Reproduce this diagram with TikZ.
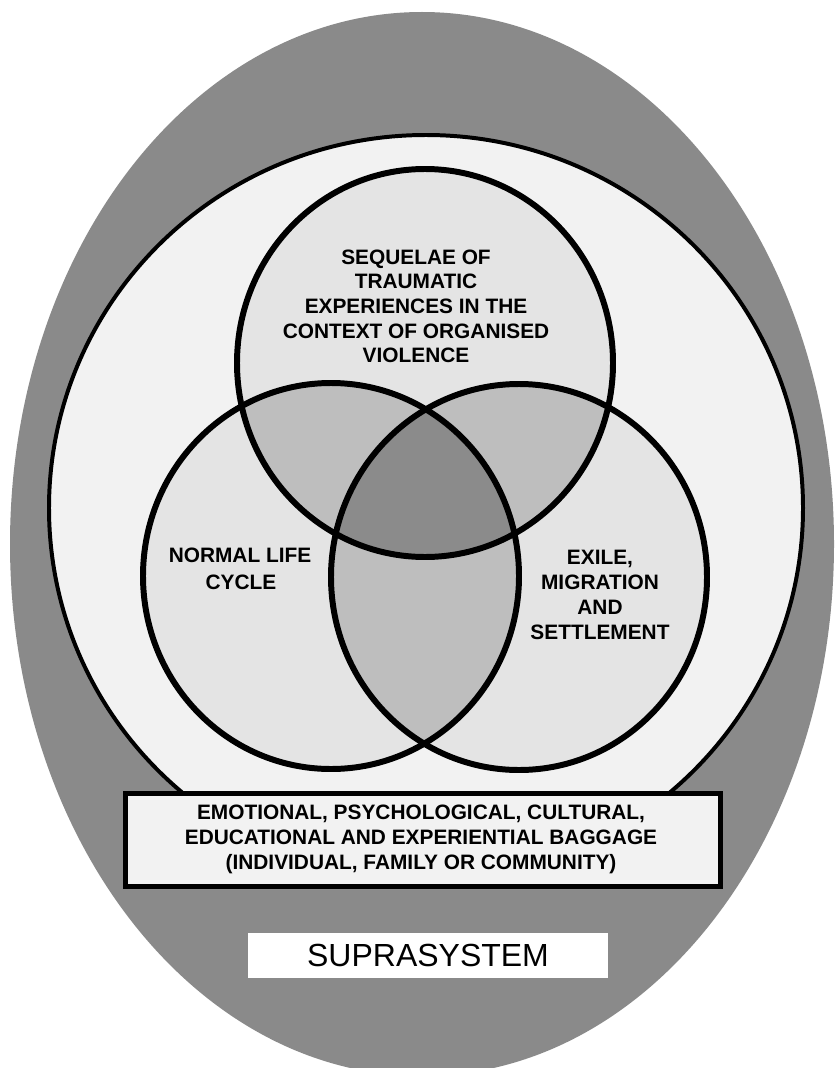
\documentclass[tikz,border=0pt]{standalone}
\usepackage{fontspec}
\setmainfont{Liberation Sans}

\definecolor{suprgray}{RGB}{138,138,138}
\definecolor{ovalfill}{RGB}{242,242,242}
\definecolor{setfill}{RGB}{228,228,228}
\definecolor{pairfill}{RGB}{190,190,190}
\definecolor{corefill}{RGB}{139,139,139}

\def\topset{(425,363) ellipse [x radius=188, y radius=194]}
\def\leftset{(331,576) ellipse [x radius=188, y radius=193]}
\def\rightset{(519,577) ellipse [x radius=188, y radius=193]}

\begin{document}
\begin{tikzpicture}[x=0.03cm,y=-0.03cm,
    lbl/.style={font=\fontsize{17.8}{21}\selectfont\bfseries, inner sep=0pt, text height=12.8pt, text depth=0pt},
    setline/.style={draw=black, line width=5.1pt}]
        \useasboundingbox (0,0) rectangle (835,1068);
        \fill[white] (0,0) rectangle (835,1068);
        \begin{scope}
          \clip (0,0) rectangle (835,1068);
          \fill[suprgray] (422,544) ellipse [x radius=412, y radius=532];
        \end{scope}
        \filldraw[fill=ovalfill, line width=3.4pt] (426,508) ellipse [x radius=377, y radius=373];
        %%
        \fill[setfill] \topset;
        \fill[setfill] \leftset;
        \fill[setfill] \rightset;
        \begin{scope}
          \clip \topset;
          \fill[pairfill] \leftset;
          \fill[pairfill] \rightset;
        \end{scope}
        \begin{scope}
          \clip \leftset;
          \fill[pairfill] \rightset;
        \end{scope}
        \begin{scope}
          \clip \topset;
          \clip \leftset;
          \fill[corefill] \rightset;
        \end{scope}
        \draw[setline] \topset;
        \draw[setline] \leftset;
        \draw[setline] \rightset;
        %%
        \node[lbl] (seq1) at (416,257) {SEQUELAE OF};
        \node[lbl] (seq2) at (416,281) {TRAUMATIC};
        \node[lbl] (seq3) at (416,306) {EXPERIENCES IN THE};
        \node[lbl] (seq4) at (416,331) {CONTEXT OF ORGANISED};
        \node[lbl] (seq5) at (416,355) {VIOLENCE};
        %%
        \node[lbl] (life1) at (240,555) {NORMAL LIFE};
        \node[lbl] (life2) at (241,582) {CYCLE};
        %%
        \node[lbl] (exile1) at (600,557) {EXILE,};
        \node[lbl] (exile2) at (600,582) {MIGRATION};
        \node[lbl] (exile3) at (600,607) {AND};
        \node[lbl] (exile4) at (600,632) {SETTLEMENT};
        %%
        \filldraw[fill=ovalfill, line width=4.3pt] (125.5,793.5) rectangle (720.5,886.5);
        \node[lbl] (bag1) at (421,812) {EMOTIONAL, PSYCHOLOGICAL, CULTURAL,};
        \node[lbl] (bag2) at (421,837) {EDUCATIONAL AND EXPERIENTIAL BAGGAGE};
        \node[lbl] (bag3) at (421,862) {(INDIVIDUAL, FAMILY OR COMMUNITY)};
        %%
        \node[fill=white, inner sep=0pt, minimum width=10.77cm, minimum height=1.35cm,
          font=\fontsize{27.3}{30}\selectfont, text height=19.5pt, text depth=0pt] (supra) at (428,955) {SUPRASYSTEM};
\end{tikzpicture}
\end{document}
